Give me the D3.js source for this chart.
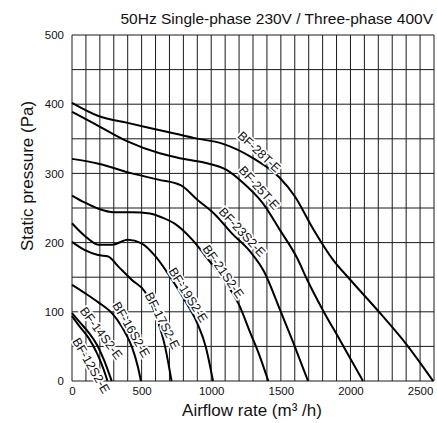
<!DOCTYPE html>
<html><head><meta charset="utf-8">
<script src="https://cdn.jsdelivr.net/npm/d3@7/dist/d3.min.js"></script>
<style>
body{margin:0;background:#fff}
text{font-family:"Liberation Sans",Arial,Helvetica,sans-serif;fill:#111}
</style>
</head><body>
<svg id="chart" width="437" height="423"></svg>
<script>
// ---- data ----
const models = ["BF-12S2-E","BF-14S2-E","BF-16S2-E","BF-17S2-E","BF-19S2-E","BF-21S2-E","BF-23S2-E","BF-25T-E","BF-28T-E"];

const flow12 = [0, 50, 120, 180, 225, 255];
const pres12 = [94, 80, 62, 40, 18, 0];

const flow14 = [0, 60, 120, 180, 230, 285];
const pres14 = [98, 84, 70, 52, 30, 0];

const flow16 = [0, 93, 187, 287, 359, 431, 474, 495];
const pres16 = [139, 127, 114, 98, 78, 49, 20, 0];

const flow17 = [0, 93, 187, 260, 330, 430, 524, 596, 668, 715];
const pres17 = [201, 189, 182, 180, 166, 146, 129, 98, 50, 0];

const flow19 = [0, 90, 190, 290, 400, 500, 600, 690, 800, 905, 960, 1013];
const pres19 = [228, 210, 197, 197, 204, 199, 180, 155, 120, 81, 50, 0];

const flow21 = [0, 90, 190, 300, 430, 560, 650, 740, 860, 980, 1100, 1200, 1280, 1350, 1410];
const pres21 = [268, 258, 249, 244, 244, 242, 236, 227, 205, 175, 143, 110, 70, 35, 0];

const flow23 = [0, 190, 430, 620, 780, 900, 1030, 1150, 1280, 1380, 1490, 1590, 1695];
const pres23 = [321, 314, 300, 291, 283, 262, 240, 213, 187, 158, 105, 55, 0];

const flow25 = [0, 150, 390, 630, 775, 940, 1110, 1220, 1370, 1494, 1616, 1690, 1800, 1925, 2090];
const pres25 = [389, 373, 347, 329, 322, 316, 305, 288, 257, 218, 178, 146, 103, 59, 0];

const flow28 = [0, 190, 400, 640, 880, 1080, 1300, 1490, 1600, 1731, 1875, 2000, 2213, 2406, 2594];
const pres28 = [402, 383, 373, 362, 351, 343, 322, 294, 267, 220, 175, 146, 98, 52, 0];

// label anchors (airflow, pressure) and angles
const labelFlow = [136, 208, 424, 647, 833, 1085, 1221, 1343, 1343];
const labelPres = [22, 69, 74, 87, 124, 158, 215, 279, 331];
const labelAngle = [60, 53, 60, 63, 58, 55, 47, 48, 43];

const xTicks = [0, 500, 1000, 1500, 2000, 2500];
const yTicks = [0, 100, 200, 300, 400, 500];
const title = "50Hz Single-phase 230V / Three-phase 400V";
const xTitle = "Airflow rate (m\u00B3 /h)";
const yTitle = "Static pressure (Pa)";

const flows = [flow12, flow14, flow16, flow17, flow19, flow21, flow23, flow25, flow28];
const press = [pres12, pres14, pres16, pres17, pres19, pres21, pres23, pres25, pres28];

// ---- layout ----
const svg = d3.select("#chart");
const x = d3.scaleLinear().domain([0, 2600]).range([72, 434]);
const y = d3.scaleLinear().domain([0, 500]).range([381, 35]);

// grid
const g = svg.append("g");
g.selectAll("line.v").data(d3.range(0, 2601, 100)).join("line")
  .attr("x1", d => x(d)).attr("x2", d => x(d))
  .attr("y1", y(0)).attr("y2", y(500))
  .attr("stroke", "#1a1a1a").attr("stroke-width", 1);
g.selectAll("line.h").data(d3.range(0, 501, 50)).join("line")
  .attr("x1", x(0)).attr("x2", x(2600))
  .attr("y1", d => y(d)).attr("y2", d => y(d))
  .attr("stroke", "#1a1a1a").attr("stroke-width", 1);

// curves
const line = d3.line().x(d => x(d[0])).y(d => y(d[1])).curve(d3.curveMonotoneX);
flows.forEach((f, i) => {
  const pts = f.map((v, j) => [v, press[i][j]]);
  svg.append("path").attr("d", line(pts))
    .attr("fill", "none").attr("stroke", "#000").attr("stroke-width", 2);
});

// curve labels
models.forEach((m, i) => {
  svg.append("text")
    .attr("transform", `translate(${x(labelFlow[i])},${y(labelPres[i])}) rotate(${labelAngle[i]})`)
    .attr("text-anchor", "middle").attr("dominant-baseline", "central")
    .attr("font-size", 12.5)
    .attr("stroke", "#fff").attr("stroke-width", 3.5).attr("paint-order", "stroke")
    .attr("stroke-linejoin", "round")
    .text(m);
});

// axes tick labels
const xa = svg.append("g").attr("transform", `translate(0,${y(0)})`)
  .call(d3.axisBottom(x).tickValues(xTicks).tickSize(0).tickPadding(6).tickFormat(d3.format("d")));
xa.select(".domain").remove();
xa.selectAll("text").attr("font-size", 11.5).attr("font-family", null);
const ya = svg.append("g").attr("transform", `translate(${x(0)},0)`)
  .call(d3.axisLeft(y).tickValues(yTicks).tickSize(0).tickPadding(8).tickFormat(d3.format("d")));
ya.select(".domain").remove();
ya.selectAll("text").attr("font-size", 11.5).attr("font-family", null);

// titles
svg.append("text").attr("x", 433).attr("y", 24).attr("text-anchor", "end")
  .attr("font-size", 15.5).text(title);
svg.append("text").attr("x", 252).attr("y", 416).attr("text-anchor", "middle")
  .attr("font-size", 17).text(xTitle);
svg.append("text").attr("transform", "translate(33,176) rotate(-90)")
  .attr("text-anchor", "middle").attr("font-size", 17).text(yTitle);
</script>
</body></html>
